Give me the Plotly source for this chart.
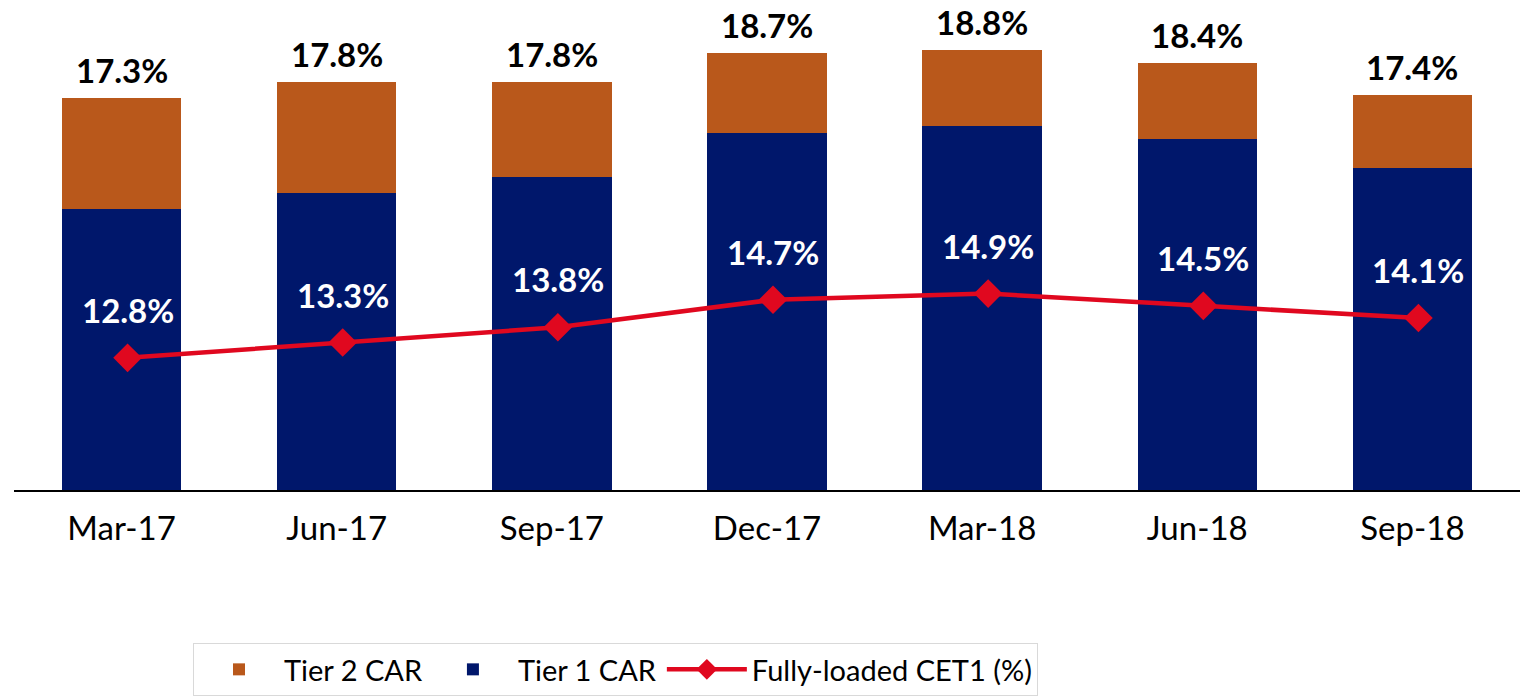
import plotly.graph_objects as go

categories = ["Mar-17", "Jun-17", "Sep-17", "Dec-17", "Mar-18", "Jun-18", "Sep-18"]
tier1_car = [13.8, 14.3, 14.8, 16.2, 16.4, 16.0, 15.1]
tier2_car = [3.5, 3.5, 3.0, 2.5, 2.4, 2.4, 2.3]
total_car = [17.3, 17.8, 17.8, 18.7, 18.8, 18.4, 17.4]
cet1 = [12.8, 13.3, 13.8, 14.7, 14.9, 14.5, 14.1]

NAVY = "#00176B"
ORANGE = "#B9581B"
RED = "#E0081F"
FONT = "Lato"

W, H = 1522, 699

fig = go.Figure()
fig.add_trace(go.Bar(
    x=categories, y=tier1_car, name="Tier 1 CAR", marker_color=NAVY,
    marker_line_width=0, legendrank=2,
))
fig.add_trace(go.Bar(
    x=categories, y=tier2_car, name="Tier 2 CAR", marker_color=ORANGE,
    marker_line_width=0, legendrank=1,
))
fig.add_trace(go.Scatter(
    x=categories, y=cet1, name="Fully-loaded CET1 (%)", mode="lines+markers",
    line=dict(color=RED, width=4.5), marker=dict(symbol="diamond", size=22, color=RED),
    xaxis="x2", yaxis="y2", legendrank=3,
))

annotations = []
for c, t in zip(categories, total_car):
    annotations.append(dict(
        x=c, y=t, xref="x", yref="y", text=f"<b>{t:.1f}%</b>", showarrow=False,
        yanchor="bottom", yshift=6, font=dict(family=FONT, size=33, color="black"),
    ))
for c, v in zip(categories, cet1):
    annotations.append(dict(
        x=c, y=v, xref="x2", yref="y2", text=f"<b>{v:.1f}%</b>", showarrow=False,
        yanchor="bottom", yshift=26, font=dict(family=FONT, size=33, color="white"),
    ))

shift = 6.0 / 215.0
fig.update_layout(
    width=W, height=H,
    margin=dict(l=14, r=2, t=10, b=H - 490),
    barmode="stack", bargap=0.445,
    plot_bgcolor="white", paper_bgcolor="white",
    font=dict(family=FONT, color="black"),
    xaxis=dict(
        type="category", range=[-0.5, 6.5], showgrid=False, showline=True,
        linecolor="black", linewidth=2, ticks="", ticklabelstandoff=8,
        tickfont=dict(family=FONT, size=33, color="black"),
    ),
    xaxis2=dict(
        type="category", overlaying="x", range=[-0.5 - shift, 6.5 - shift],
        visible=False,
    ),
    yaxis=dict(range=[5.0, 20.05], visible=False, showgrid=False),
    yaxis2=dict(range=[8.48, 24.17], overlaying="y", visible=False, showgrid=False),
    showlegend=True,
    legend=dict(
        orientation="h", xref="container", yref="container",
        x=193 / W, y=1 - 643 / H, xanchor="left", yanchor="top",
        bordercolor="#D9D9D9", borderwidth=1, bgcolor="white",
        font=dict(family=FONT, size=29, color="black"), itemwidth=80,
        traceorder="normal",
    ),
    annotations=annotations,
)

fig.write_html(
    "out.html",
    config={"displayModeBar": False},
    post_script="document.body.style.margin='0';document.body.style.overflow='hidden';",
)
